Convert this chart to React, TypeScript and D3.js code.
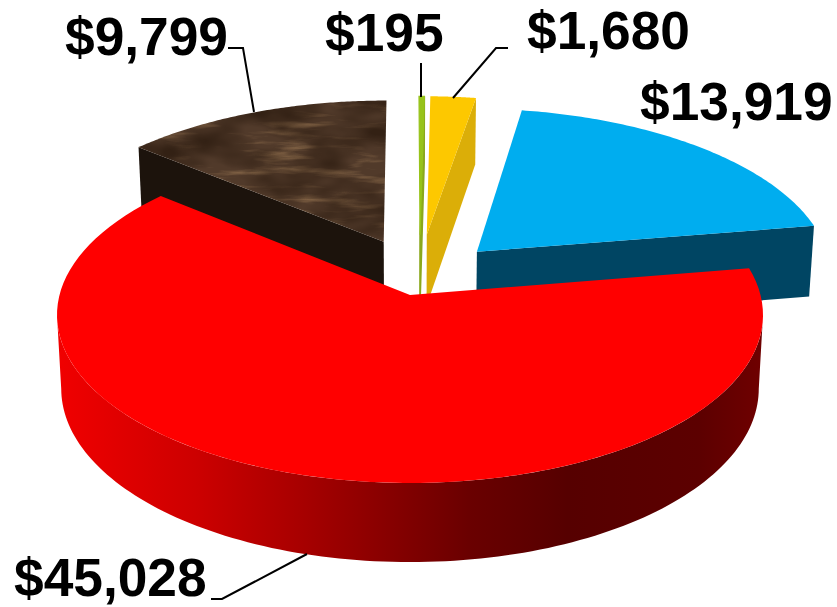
import React from "react";
import * as d3 from "d3";

// Budget shares, clockwise from twelve o'clock
const categories = ["Green", "Yellow", "Blue", "Red", "Brown"];
const values = [195, 1680, 13919, 45028, 9799];
const topColors = ["#97c31a", "#fdc800", "#00adef", "#ff0000", "url(#marble)"];
const wallColors = ["#8aa81c", "#dbae08", "#004563", "url(#redWall)", "#1c130c"];
// Sideways and backwards displacement of each exploded slice, in radii
const explodeU = [0.03, 0.05, 0.197, 0, -0.078];
const explodeV = [0.38, 0.38, 0.27, 0, 0.335];
const radii = [1.02, 1.02, 1.03, 1, 1.03];

const formatMoney = d3.format("$,");

type Label = { text: string; x: number; y: number };
const labels: Label[] = [
  { text: formatMoney(values[0]), x: 325, y: 51 },
  { text: formatMoney(values[1]), x: 527, y: 49 },
  { text: formatMoney(values[2]), x: 640, y: 120 },
  { text: formatMoney(values[3]), x: 14, y: 596 },
  { text: formatMoney(values[4]), x: 65, y: 55 },
];
const leaders: [number, number][][] = [
  [[421, 63], [421, 97]],
  [[508, 48], [496, 48], [453, 98]],
  [[211, 599], [222, 599], [307, 554]],
  [[228, 48], [243, 48], [254, 112]],
];

// Perspective of the tilted disc: u runs right, v runs away from the viewer
const K = 0.119;
const CX = 410;
const project = (u: number, v: number, bottom: boolean): [number, number] => {
  const den = 1 + K * v;
  return bottom
    ? [CX + (346.3 * u) / den, 368 - (171 * v) / den]
    : [CX + (350.5 * u) / den, 295 - (165.6 * v) / den];
};

const pieAngles = d3
  .pie<number>()
  .sort(null)
  .value((d) => d)(values);

const line = d3.line();

function sliceShapes(i: number) {
  const { startAngle, endAngle } = pieAngles[i];
  const du = explodeU[i];
  const dv = explodeV[i];
  const r = radii[i];
  const rim = (a: number, bottom: boolean) =>
    project(r * Math.sin(a) + du, r * Math.cos(a) + dv, bottom);
  const steps = d3.range(0, 1.0001, 1 / 96).map(d3.interpolateNumber(startAngle, endAngle));
  const apexTop = project(du, dv, false);
  const apexBottom = project(du, dv, true);
  const arcTop = steps.map((a) => rim(a, false));
  const arcBottom = steps.map((a) => rim(a, true));

  // The outer wall spans the disc's left and right silhouette points
  const silhouette = Math.acos(-K);
  const front = d3
    .range(0, 1.0001, 1 / 128)
    .map(d3.interpolateNumber(silhouette, 2 * Math.PI - silhouette));
  const frontTop = front.map((a) => rim(a, false));
  const frontBottom = front.map((a) => rim(a, true));

  // The flat wall that can be seen depends on which radial edge faces the viewer
  const edge = i === 4 ? 0 : arcTop.length - 1;
  return {
    top: line([apexTop, ...arcTop])! + "Z",
    radial: line([apexTop, arcTop[edge], arcBottom[edge], apexBottom])! + "Z",
    outer: line([...frontTop, ...frontBottom.slice().reverse()])! + "Z",
  };
}

const drawOrder = [4, 0, 1, 2, 3];

const redStops: [number, string][] = [
  [0, "#f00000"],
  [0.196, "#cc0000"],
  [0.34, "#a80000"],
  [0.47, "#860000"],
  [0.58, "#6a0000"],
  [0.72, "#560000"],
  [0.905, "#5c0000"],
  [1, "#700000"],
];

export default function App() {
  return (
    <svg
      width={837}
      height={607}
      style={{ position: "absolute", left: 0, top: 0, background: "#fff" }}
    >
      <defs>
        <linearGradient id="redWall" gradientUnits="userSpaceOnUse" x1={60} x2={765} y1={0} y2={0}>
          {redStops.map(([o, c]) => (
            <stop key={o} offset={o} stopColor={c} />
          ))}
        </linearGradient>
        {/* Dark blotches in the leather-like surface */}
        <filter id="blotchFx" x="0" y="0" width="1" height="1" colorInterpolationFilters="sRGB">
          <feTurbulence type="fractalNoise" baseFrequency="0.014 0.03" numOctaves={3} seed={7} />
          <feColorMatrix
            type="matrix"
            values="0 0 0 0 0.2  0 0 0 0 0.13  0 0 0 0 0.08  2.6 0 0 0 -0.95"
          />
        </filter>
        {/* Pale fibres running mostly sideways */}
        <filter id="fibreFx" x="0" y="0" width="1" height="1" colorInterpolationFilters="sRGB">
          <feTurbulence type="fractalNoise" baseFrequency="0.016 0.11" numOctaves={4} seed={23} />
          <feColorMatrix
            type="matrix"
            values="0 0 0 0 0.56  0 0 0 0 0.43  0 0 0 0 0.3  0 3 0 0 -1.55"
          />
        </filter>
        <pattern id="marble" patternUnits="userSpaceOnUse" x={130} y={95} width={265} height={155}>
          <rect width={265} height={155} fill="#513a2a" />
          <rect width={265} height={155} filter="url(#fibreFx)" />
          <rect width={265} height={155} filter="url(#blotchFx)" />
        </pattern>
      </defs>

      {drawOrder.map((i) => {
        const s = sliceShapes(i);
        return (
          <g key={categories[i]}>
            <path
              d={i === 3 ? s.outer : s.radial}
              fill={wallColors[i]}
              stroke={i === 0 ? wallColors[i] : "none"}
              strokeWidth={1.6}
            />
            <path
              d={s.top}
              fill={topColors[i]}
              stroke={i === 0 ? topColors[i] : "none"}
              strokeWidth={1.2}
            />
          </g>
        );
      })}

      {leaders.map((pts, i) => (
        <path key={i} d={line(pts)!} fill="none" stroke="#000" strokeWidth={2} />
      ))}

      {labels.map((l) => (
        <text
          key={l.text}
          x={l.x}
          y={l.y}
          fontFamily="'Liberation Sans', Arial, sans-serif"
          fontWeight="bold"
          fontSize={53.3}
          fill="#000"
        >
          {l.text}
        </text>
      ))}
    </svg>
  );
}
